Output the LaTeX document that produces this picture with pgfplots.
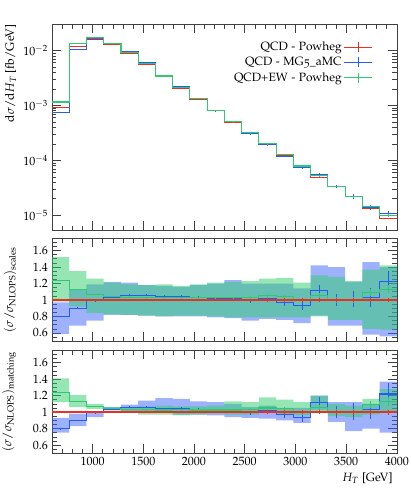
\documentclass[12pt,border=0pt]{standalone}
\usepackage[T1]{fontenc}
\usepackage[osf]{mathpazo}
\usepackage{pgfplots}
\usepackage{pgfplotstable}
\pgfplotsset{compat=1.18}
\usepgfplotslibrary{fillbetween}

\definecolor{cred}{RGB}{232,50,30}
\definecolor{cblue}{RGB}{40,90,245}
\definecolor{cgreen}{RGB}{50,200,115}
\definecolor{bblue}{RGB}{60,100,250}
\definecolor{bgreen}{RGB}{45,205,105}

% dsigma/dHT, bins of 170 GeV (left edges, last row repeats the last bin)
\pgfplotstableread{
x r b g
600 9.3e-4 7.44e-4 1.153e-3
770 1.18e-2 1.062e-2 1.333e-2
940 1.63e-2 1.61e-2 1.74e-2
1110 1.30e-2 1.346e-2 1.359e-2
1280 8.9e-3 9.43e-3 9.21e-3
1450 5.65e-3 5.99e-3 5.82e-3
1620 3.36e-3 3.51e-3 3.44e-3
1790 2.08e-3 2.17e-3 2.14e-3
1960 1.30e-3 1.345e-3 1.333e-3
2130 8.0e-4 8.16e-4 8.2e-4
2300 4.92e-4 5.02e-4 5.04e-4
2470 3.08e-4 3.05e-4 3.17e-4
2640 1.92e-4 1.96e-4 2.02e-4
2810 1.23e-4 1.19e-4 1.28e-4
2980 7.9e-5 7.35e-5 7.9e-5
3150 4.95e-5 5.54e-5 5.25e-5
3320 3.36e-5 3.36e-5 3.36e-5
3490 2.19e-5 2.21e-5 2.19e-5
3660 1.34e-5 1.38e-5 1.46e-5
3830 8.8e-6 1.074e-5 9.9e-6
4000 8.8e-6 1.074e-5 9.9e-6
}\mainT

% errors at bin centres
\pgfplotstableread{
xc r re b be g ge
2215 8.0e-4 8e-6 8.16e-4 1.2e-5 8.2e-4 8e-6
2385 4.92e-4 7e-6 5.02e-4 1.0e-5 5.04e-4 7.5e-6
2555 3.08e-4 4.6e-6 3.05e-4 7.6e-6 3.17e-4 6.3e-6
2725 1.92e-4 3.8e-6 1.96e-4 5.9e-6 2.02e-4 4e-6
2895 1.23e-4 2.5e-6 1.19e-4 4.8e-6 1.28e-4 3.2e-6
3065 7.9e-5 1.6e-6 7.35e-5 3.7e-6 7.9e-5 2.4e-6
3235 4.95e-5 1.2e-6 5.54e-5 3.3e-6 5.25e-5 1.6e-6
3405 3.36e-5 1.0e-6 3.36e-5 2.4e-6 3.36e-5 1.2e-6
3575 2.19e-5 6.6e-7 2.21e-5 2.2e-6 2.19e-5 8.8e-7
3745 1.34e-5 4e-7 1.38e-5 1.5e-6 1.46e-5 5.8e-7
3915 8.8e-6 2.6e-7 1.074e-5 1.3e-6 9.9e-6 5e-7
}\mainE

% ratio to QCD - Powheg, central values
\pgfplotstableread{
x b g
600 0.80 1.24
770 0.90 1.13
940 0.99 1.07
1110 1.035 1.045
1280 1.06 1.035
1450 1.06 1.03
1620 1.045 1.025
1790 1.045 1.03
1960 1.035 1.025
2130 1.02 1.025
2300 1.02 1.025
2470 0.99 1.03
2640 1.02 1.05
2810 0.97 1.04
2980 0.93 1.0
3150 1.12 1.06
3320 1.0 1.0
3490 1.01 1.0
3660 1.03 1.09
3830 1.22 1.13
4000 1.22 1.13
}\ratT

\pgfplotstableread{
xc b be g ge re
685 0.80 0.01 1.24 0.008 0.006
855 0.90 0.01 1.13 0.008 0.006
1025 0.99 0.01 1.07 0.008 0.006
1195 1.035 0.01 1.045 0.008 0.006
1365 1.06 0.01 1.035 0.008 0.006
1535 1.06 0.01 1.03 0.008 0.006
1705 1.045 0.01 1.025 0.008 0.008
1875 1.045 0.012 1.03 0.01 0.008
2045 1.035 0.012 1.025 0.01 0.008
2215 1.02 0.015 1.025 0.01 0.01
2385 1.02 0.02 1.025 0.015 0.015
2555 0.99 0.025 1.03 0.02 0.015
2725 1.02 0.03 1.05 0.02 0.02
2895 0.97 0.04 1.04 0.025 0.02
3065 0.93 0.05 1.0 0.03 0.02
3235 1.12 0.06 1.06 0.03 0.025
3405 1.0 0.07 1.0 0.035 0.03
3575 1.01 0.1 1.0 0.04 0.03
3745 1.03 0.11 1.09 0.04 0.03
3915 1.22 0.13 1.13 0.05 0.03
}\ratE

% scale variation bands
\pgfplotstableread{
x bl bh gl gh
600 0.59 0.97 0.98 1.52
770 0.69 1.12 0.92 1.35
940 0.75 1.19 0.84 1.26
1110 0.82 1.22 0.83 1.21
1280 0.82 1.21 0.82 1.19
1450 0.81 1.18 0.81 1.18
1620 0.80 1.17 0.80 1.19
1790 0.80 1.16 0.81 1.17
1960 0.80 1.18 0.81 1.19
2130 0.79 1.20 0.80 1.21
2300 0.78 1.24 0.79 1.22
2470 0.75 1.20 0.79 1.23
2640 0.77 1.20 0.79 1.26
2810 0.76 1.20 0.79 1.27
2980 0.72 1.14 0.79 1.21
3150 0.81 1.42 0.80 1.30
3320 0.69 1.40 0.76 1.28
3490 0.69 1.22 0.76 1.23
3660 0.58 1.46 0.65 1.37
3830 0.56 1.40 0.64 1.42
4000 0.56 1.40 0.64 1.42
}\scT

% matching bands
\pgfplotstableread{
x bl bh gl gh
600 0.75 0.93 1.12 1.41
770 0.83 0.98 1.06 1.21
940 0.94 1.01 1.04 1.10
1110 1.02 1.06 1.03 1.06
1280 1.00 1.09 1.00 1.06
1450 0.99 1.14 0.97 1.07
1620 0.99 1.17 0.97 1.08
1790 0.97 1.16 0.96 1.07
1960 0.97 1.13 0.97 1.07
2130 0.96 1.12 0.98 1.08
2300 0.94 1.10 0.97 1.13
2470 0.93 1.06 0.97 1.12
2640 0.92 1.08 1.00 1.18
2810 0.90 1.05 0.97 1.15
2980 0.87 1.05 0.96 1.12
3150 1.02 1.20 0.99 1.20
3320 0.88 1.12 0.95 1.10
3490 0.77 1.12 0.94 1.08
3660 0.80 1.10 0.97 1.16
3830 0.75 1.37 1.00 1.28
4000 0.75 1.37 1.00 1.28
}\mtT

\pgfplotsset{
  rivet/.style={
    scale only axis, width=344.8pt,
    xmin=600, xmax=4000,
    tick align=inside, tick pos=both,
    major tick length=9pt, minor tick length=4.5pt,
    xtick={1000,1500,...,4000},
    minor xtick={600,700,...,3900},
    x tick label style={/pgf/number format/1000 sep={}},
    axis line style={black!75, line width=0.6pt},
    every tick/.style={black!75, line width=0.6pt},
  },
  ratio/.style={
    rivet, height=103pt,
    ymin=0.5, ymax=1.75,
    ytick={0.6,0.8,1,1.2,1.4,1.6},
    minor ytick={0.5,0.55,...,1.76},
  },
  step/.style={const plot, line width=1.1pt},
  ebar/.style={draw=none, mark=none, forget plot,
    error bars/.cd, y dir=both, y explicit, error mark=none,
    error bar style={draw=#1, line width=0.9pt}},
  ylab/.style={ylabel style={at={(axis description cs:-0.103,#1)}, inner sep=0pt}},
}

\begin{document}
\begin{tikzpicture}

% main distribution
\begin{axis}[rivet, at={(52pt,258pt)}, anchor=south west, height=205.7pt,
  ymode=log, ymin=5.4e-6, ymax=0.030,
  ytick={1e-5,1e-4,1e-3,1e-2},
  xticklabels=\empty,
  ylabel={$\mathrm{d}\sigma/\mathrm{d}H_T$ [fb/GeV]},
  ylab=1, ylabel style={anchor=south east},
  legend style={draw=none, fill=none, at={(rel axis cs:0.94,0.935)}, anchor=north east,
    row sep=1pt},
  legend cell align=right, legend plot pos=right,
  legend image code/.code={\draw[#1, line width=1.2pt] (0pt,0pt) -- (28pt,0pt); \draw[#1, line width=1.2pt] (14pt,-5pt) -- (14pt,5pt);}]
\addplot[step, cred, forget plot] table[x=x, y=r]{\mainT};
\addplot[step, cblue, forget plot] table[x=x, y=b]{\mainT};
\addplot[step, cgreen, forget plot] table[x=x, y=g]{\mainT};
\addplot[ebar=cred] table[x=xc, y=r, y error=re]{\mainE};
\addplot[ebar=cblue] table[x=xc, y=b, y error=be]{\mainE};
\addplot[ebar=cgreen] table[x=xc, y=g, y error=ge]{\mainE};
\addlegendimage{cred}
\addlegendentry{QCD - Powheg}
\addlegendimage{cblue}
\addlegendentry{QCD - MG5\_aMC}
\addlegendimage{cgreen}
\addlegendentry{QCD+EW - Powheg}
\end{axis}

% scale variations
\begin{axis}[ratio, at={(52pt,146.8pt)}, anchor=south west,
  xticklabels=\empty,
  ylabel={$(\sigma/\sigma_{\mathrm{NLOPS}})_{\mathrm{scales}}$},
  ylab=0.5, ylabel style={anchor=south}]
\addplot[name path=sbl, draw=none, const plot, forget plot] table[x=x, y=bl]{\scT};
\addplot[name path=sbh, draw=none, const plot, forget plot] table[x=x, y=bh]{\scT};
\addplot[bblue, fill opacity=0.5, draw=none] fill between[of=sbl and sbh];
\addplot[name path=sgl, draw=none, const plot, forget plot] table[x=x, y=gl]{\scT};
\addplot[name path=sgh, draw=none, const plot, forget plot] table[x=x, y=gh]{\scT};
\addplot[bgreen, fill opacity=0.5, draw=none] fill between[of=sgl and sgh];
\addplot[step, cblue] table[x=x, y=b]{\ratT};
\addplot[step, cgreen] table[x=x, y=g]{\ratT};
\addplot[cred, line width=1.4pt] coordinates {(600,1) (4000,1)};
\addplot[ebar=cblue] table[x=xc, y=b, y error=be]{\ratE};
\addplot[ebar=cgreen] table[x=xc, y=g, y error=ge]{\ratE};
\addplot[ebar=cred] table[x=xc, y expr=1, y error=re]{\ratE};
\end{axis}

% matching
\begin{axis}[ratio, at={(52pt,34.7pt)}, anchor=south west,
  xlabel={$H_T$ [GeV]},
  xlabel style={at={(axis description cs:1,0)}, anchor=north east, yshift=-15pt},
  ylabel={$(\sigma/\sigma_{\mathrm{NLOPS}})_{\mathrm{matching}}$},
  ylab=0.5, ylabel style={anchor=south}]
\addplot[name path=mbl, draw=none, const plot, forget plot] table[x=x, y=bl]{\mtT};
\addplot[name path=mbh, draw=none, const plot, forget plot] table[x=x, y=bh]{\mtT};
\addplot[bblue, fill opacity=0.5, draw=none] fill between[of=mbl and mbh];
\addplot[name path=mgl, draw=none, const plot, forget plot] table[x=x, y=gl]{\mtT};
\addplot[name path=mgh, draw=none, const plot, forget plot] table[x=x, y=gh]{\mtT};
\addplot[bgreen, fill opacity=0.5, draw=none] fill between[of=mgl and mgh];
\addplot[step, cblue] table[x=x, y=b]{\ratT};
\addplot[step, cgreen] table[x=x, y=g]{\ratT};
\addplot[cred, line width=1.4pt] coordinates {(600,1) (4000,1)};
\addplot[ebar=cblue] table[x=xc, y=b, y error=be]{\ratE};
\addplot[ebar=cgreen] table[x=xc, y=g, y error=ge]{\ratE};
\addplot[ebar=cred] table[x=xc, y expr=1, y error=re]{\ratE};
\end{axis}

\pgfresetboundingbox
\path (0,0) rectangle (411pt,488pt);
\end{tikzpicture}
\end{document}
